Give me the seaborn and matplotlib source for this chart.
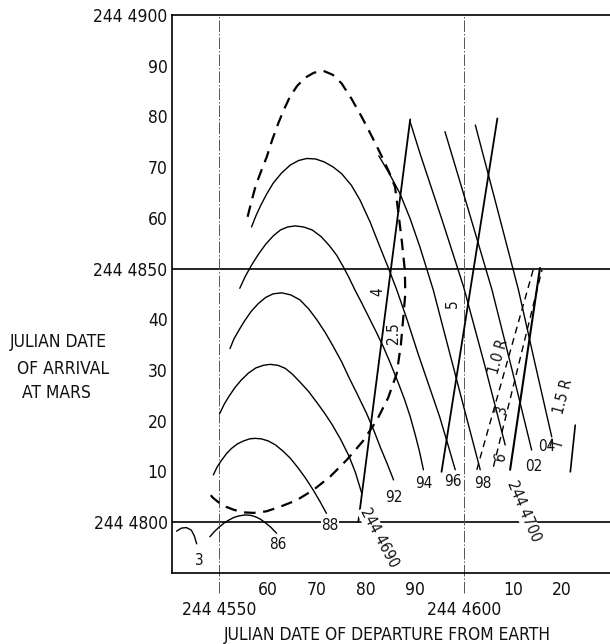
import numpy as np
import pandas as pd
import matplotlib
matplotlib.use("Agg")
import matplotlib.pyplot as plt
import seaborn as sns

# Dates are Julian days minus 2 440 000 (4550 -> "244 4550")
# ---- solid arch / descending curves (departure x, arrival y)
c86_x = [4548.1, 4549.0, 4550.0, 4551.0, 4552.0, 4553.0, 4554.0, 4555.3, 4556.5, 4557.5, 4558.5, 4559.5, 4560.5, 4561.7]
c86_y = [4797.1, 4798.1, 4799.0, 4799.8, 4800.4, 4800.9, 4801.2, 4801.4, 4801.3, 4801.0, 4800.5, 4799.8, 4799.0, 4797.8]
c88_x = [4548.8, 4549.6, 4550.5, 4551.5, 4552.5, 4553.7, 4555.0, 4556.2, 4557.3, 4558.6, 4560.0, 4561.5,
         4563.0, 4564.5, 4566.0, 4567.6, 4569.2, 4570.6, 4571.9]
c88_y = [4809.3, 4810.9, 4812.2, 4813.5, 4814.5, 4815.4, 4816.0, 4816.4, 4816.5, 4816.4, 4816.0, 4815.2,
         4814.0, 4812.6, 4810.8, 4808.7, 4806.3, 4804.0, 4801.7]
c90_x = [4550.1, 4551.0, 4552.0, 4553.2, 4554.5, 4556.0, 4557.5, 4559.0, 4560.4, 4562.0, 4563.5, 4565.0,
         4566.5, 4568.2, 4570.0, 4571.5, 4573.0, 4574.8, 4576.5, 4577.8, 4579.1]
c90_y = [4821.4, 4823.2, 4824.8, 4826.5, 4828.0, 4829.4, 4830.4, 4830.9, 4831.1, 4830.9, 4830.3, 4829.1,
         4827.6, 4825.8, 4823.5, 4821.5, 4819.3, 4816.3, 4813.0, 4809.8, 4805.7]
c92_x = [4552.2, 4553.0, 4554.0, 4555.2, 4556.5, 4558.0, 4559.5, 4561.0, 4562.75, 4564.6, 4566.5, 4568.3,
         4570.0, 4571.7, 4573.3, 4575.0, 4576.5, 4578.3, 4580.1, 4581.6, 4583.0, 4584.3, 4585.6]
c92_y = [4834.2, 4836.1, 4837.8, 4839.7, 4841.5, 4843.1, 4844.3, 4845.0, 4845.2, 4844.8, 4843.8, 4842.0,
         4839.8, 4837.3, 4834.6, 4831.6, 4828.5, 4825.0, 4821.4, 4818.0, 4814.5, 4811.5, 4808.3]
c94_x = [4554.2, 4555.3, 4556.5, 4558.0, 4559.5, 4561.0, 4562.5, 4564.0, 4565.5, 4567.2, 4569.0, 4570.8,
         4572.5, 4574.0, 4575.3, 4576.5, 4577.7, 4579.1, 4580.5, 4582.0, 4583.5, 4585.0, 4586.5, 4587.8,
         4589.0, 4590.0, 4590.9, 4591.7]
c94_y = [4846.1, 4848.4, 4850.5, 4852.8, 4854.8, 4856.4, 4857.6, 4858.2, 4858.4, 4858.2, 4857.6, 4856.3,
         4854.5, 4852.6, 4850.4, 4848.2, 4845.8, 4843.2, 4840.5, 4837.6, 4834.6, 4831.2, 4827.6, 4824.3,
         4820.8, 4817.3, 4813.9, 4810.3]
c96_x = [4556.6, 4557.5, 4558.5, 4559.7, 4561.0, 4562.7, 4564.5, 4566.2, 4567.9, 4569.7, 4571.5, 4573.3,
         4575.0, 4577.0, 4578.75, 4580.8, 4582.8, 4584.5, 4586.25, 4588.4, 4590.5, 4592.8, 4595.0, 4596.6, 4598.2]
c96_y = [4858.2, 4860.4, 4862.5, 4864.7, 4866.8, 4868.8, 4870.4, 4871.3, 4871.7, 4871.6, 4871.0, 4870.0,
         4868.7, 4866.4, 4863.5, 4859.2, 4854.3, 4850.2, 4845.8, 4839.8, 4833.5, 4827.0, 4820.8, 4815.6, 4810.3]
c98_x = [4582.6, 4584.8, 4586.9, 4589.0, 4591.0, 4593.7, 4598.5, 4603.3]
c98_y = [4872.2, 4868.6, 4864.8, 4859.8, 4854.2, 4845.8, 4828.0, 4810.3]
c00_x = [4589.0, 4591.0, 4595.5, 4599.9, 4604.2, 4608.4]
c00_y = [4878.9, 4872.7, 4859.6, 4846.4, 4831.0, 4815.2]
c02_x = [4596.1, 4600.9, 4605.7, 4609.8, 4613.8]
c02_y = [4877.0, 4861.5, 4845.8, 4830.0, 4814.2]
c04_x = [4602.3, 4606.7, 4611.1, 4614.5, 4617.9]
c04_y = [4878.3, 4862.1, 4845.8, 4831.2, 4816.8]
c3_x = [4541.3, 4542.3, 4543.3, 4544.3, 4544.9, 4545.4]
c3_y = [4798.2, 4798.8, 4798.9, 4798.4, 4797.3, 4795.7]

# ---- dashed envelope
env_x = [4555.8, 4556.6, 4557.5, 4558.6, 4559.7, 4560.8, 4562.0, 4563.2, 4564.45, 4565.9, 4567.5, 4569.3,
         4571.25, 4573.2, 4575.0, 4577.0, 4579.1, 4581.2, 4583.2, 4584.7, 4585.9, 4586.6, 4587.3, 4587.9,
         4588.0, 4587.6, 4587.1, 4586.25, 4584.5, 4582.2, 4579.3, 4576.0, 4572.7, 4569.2, 4565.8, 4562.4,
         4559.6, 4557.0, 4555.0, 4553.0, 4551.4, 4550.1, 4548.7, 4547.4]
env_y = [4860.2, 4863.3, 4866.5, 4869.3, 4872.0, 4875.3, 4878.5, 4881.3, 4883.9, 4886.0, 4887.6, 4888.6,
         4889.0, 4888.2, 4886.5, 4883.5, 4879.9, 4876.0, 4872.1, 4869.0, 4866.1, 4860.9, 4855.3, 4849.7,
         4845.0, 4840.5, 4835.0, 4829.3, 4824.5, 4820.1, 4815.9, 4812.2, 4809.0, 4806.3, 4804.3, 4803.0,
         4802.1, 4801.8, 4801.9, 4802.4, 4803.0, 4803.7, 4804.8, 4806.3]

# ---- rising straight lines
rise_solid_x = [[4578.4, 4589.0], [4595.4, 4606.8], [4609.4, 4615.5], [4622.7, 4621.7]]
rise_solid_y = [[4800.0, 4879.4], [4809.9, 4879.6], [4810.3, 4850.1], [4819.1, 4809.9]]
rise_solid_w = [1.3, 1.3, 1.5, 1.2]
rise_dash_x = [[4602.6, 4614.1], [4606.0, 4615.9]]
rise_dash_y = [[4810.3, 4849.7], [4810.9, 4849.7]]

# ---- curve labels
lab_text = ["86", "88", "92", "94", "96", "98", "02", "04", "3",
            "4", "2.5", "5", "6", "1.0 R", "3", "1.5 R", "T",
            "244 4690", "244 4700"]
lab_x = [4562.0, 4572.6, 4585.6, 4591.7, 4597.8, 4603.9, 4614.2, 4616.9, 4546.0,
         4582.3, 4585.6, 4597.6, 4607.5, 4607.0, 4607.7, 4620.3, 4619.4,
         4582.6, 4612.1]
lab_y = [4795.5, 4799.4, 4804.9, 4807.6, 4807.9, 4807.6, 4810.9, 4814.9, 4792.4,
         4845.4, 4837.2, 4843.1, 4812.9, 4832.6, 4822.1, 4824.7, 4815.5,
         4797.0, 4802.2]
lab_rot = [0, 0, 0, 0, 0, 0, 0, 0, 0,
           90, 90, 90, 75, 74, 74, 75, 75,
           -62, -67]

# ---- axes ticks
x_minor_vals = [4560, 4570, 4580, 4590, 4610, 4620]
x_minor_labels = ["60", "70", "80", "90", "10", "20"]
x_major_vals = [4550, 4600]
x_major_labels = ["244 4550", "244 4600"]
y_vals = [4800, 4810, 4820, 4830, 4840, 4850, 4860, 4870, 4880, 4890, 4900]
y_labels = ["244 4800", "10", "20", "30", "40", "244 4850", "60", "70", "80", "90", "244 4900"]
h_lines = [4800, 4850]

sns.set_theme(style="white")
plt.rcParams["font.family"] = ["DejaVu Sans"]
plt.rcParams["font.stretch"] = "condensed"

fig = plt.figure(figsize=(6.1, 6.44), dpi=100)
ax = fig.add_axes([0.2815, 0.1107, 0.7185, 0.866])
ax.set_xlim(4540.3, 4629.8)
ax.set_ylim(4790.0, 4900.0)

def line(xs, ys, lw=1.0, ls="-", z=2):
    df = pd.DataFrame({"x": xs, "y": ys})
    sns.lineplot(data=df, x="x", y="y", sort=False, estimator=None, color="black",
                 lw=lw, linestyle=ls, ax=ax, zorder=z,
                 solid_joinstyle="round", dash_joinstyle="round")

for xs, ys in [(c86_x, c86_y), (c88_x, c88_y), (c90_x, c90_y), (c92_x, c92_y),
               (c94_x, c94_y), (c96_x, c96_y), (c98_x, c98_y), (c00_x, c00_y),
               (c02_x, c02_y), (c04_x, c04_y), (c3_x, c3_y)]:
    line(xs, ys, lw=1.0)

line(env_x, env_y, lw=1.6, ls=(0, (5.2, 3.4)))
for xs, ys, w in zip(rise_solid_x, rise_solid_y, rise_solid_w):
    line(xs, ys, lw=w)
for xs, ys in zip(rise_dash_x, rise_dash_y):
    line(xs, ys, lw=1.0, ls=(0, (5, 3.5)))

for yv in h_lines:
    ax.axhline(yv, color="black", lw=1.2, zorder=1)
for xv in x_major_vals:
    ax.plot([xv, xv], [4786.0, 4900.0], color="#555555", lw=0.7,
            linestyle=(0, (12, 2, 1.5, 2)), clip_on=False, zorder=1)

for t, x, y, r in zip(lab_text, lab_x, lab_y, lab_rot):
    kw = {}
    if t in ("88", "244 4690", "244 4700"):
        kw["bbox"] = dict(facecolor="white", edgecolor="none", pad=0.5)
    ax.text(x, y, t, rotation=r, ha="center", va="center", fontsize=11,
            color="#111111", zorder=5, rotation_mode="anchor", **kw)

ax.set_xticks(x_minor_vals)
ax.set_xticklabels(x_minor_labels)
ax.set_yticks(y_vals)
ax.set_yticklabels(y_labels)
ax.tick_params(axis="both", direction="in", length=7, width=1.0, color="black",
               labelsize=12.5, labelcolor="#111111")
ax.tick_params(axis="x", pad=6)
ax.tick_params(axis="y", pad=3)
ax.set_xlabel("")
ax.set_ylabel("")

for xv, lbl in zip(x_major_vals, x_major_labels):
    ax.text(xv, -0.066, lbl, transform=ax.get_xaxis_transform(), ha="center",
            va="center", fontsize=12.5, color="#111111")

for s in ["left", "bottom", "top"]:
    ax.spines[s].set_visible(True)
    ax.spines[s].set_color("black")
    ax.spines[s].set_linewidth(1.2)
ax.spines["right"].set_visible(False)

fig.text(387 / 610, 1 - 634.5 / 644, "JULIAN DATE OF DEPARTURE FROM EARTH",
         ha="center", va="center", fontsize=12.5, color="#111111")
for txt, px, py in [("JULIAN DATE", 10, 342), ("OF ARRIVAL", 17, 368.5), ("AT MARS", 22, 393)]:
    fig.text(px / 610, 1 - py / 644, txt, ha="left", va="center", fontsize=12.5,
             color="#111111")

fig.savefig("out.png", dpi=100, facecolor="white")
